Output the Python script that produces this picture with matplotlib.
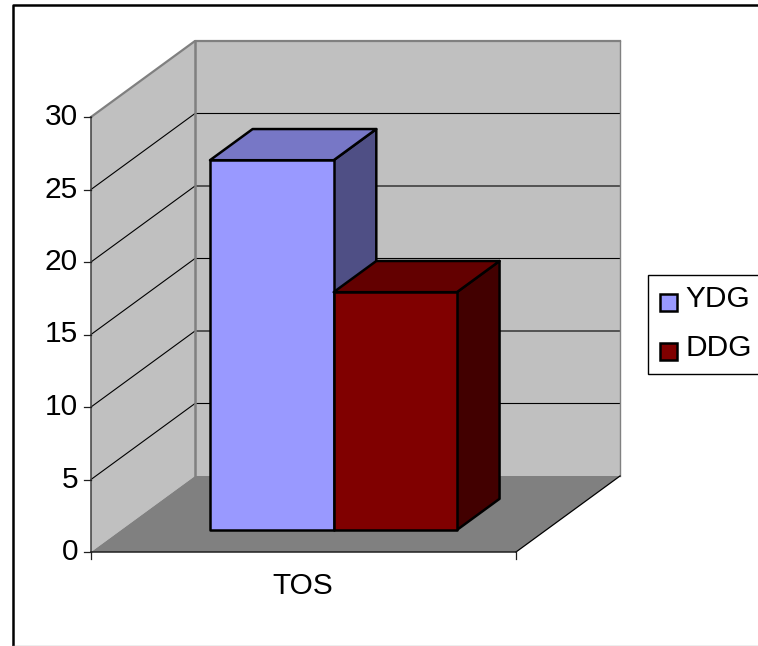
import matplotlib
matplotlib.use("Agg")
import matplotlib.pyplot as plt
from matplotlib.patches import Polygon, Rectangle

plt.rcParams['font.family'] = ['Liberation Sans', 'DejaVu Sans']

# data
categories = ["TOS"]
series_names = ["YDG", "DDG"]
series_values = [25.5, 16.4]
series_colors = ["#9999ff", "#800000"]
top_colors = ["#7777c6", "#630000"]
side_colors = ["#4f4f85", "#420000"]
y_ticks = [0, 5, 10, 15, 20, 25, 30]

# oblique box, in pixels
x0 = 91.0
y0 = 552.0
box_w = 425.0
dx = 104.0
dy = -76.0
px_per_unit = 14.5
ymax = 30
label_size = 21.5


def proj(fx, v, d):
    # fx: 0-1 along the category axis, v: value, d: 0-1 depth
    return (x0 + fx * box_w + d * dx, y0 - v * px_per_unit + d * dy)


fig = plt.figure(figsize=(7.58, 6.46), dpi=100)
ax = fig.add_axes([0, 0, 1, 1])
ax.set_xlim(0, 758)
ax.set_ylim(646, 0)
ax.axis("off")

# walls and floor
wall = "#c0c0c0"
edge = "#808080"
ax.add_patch(Polygon([proj(0, 0, 0), proj(0, ymax, 0), proj(0, ymax, 1), proj(0, 0, 1)],
                     fc=wall, ec="none", zorder=1))
ax.add_patch(Polygon([proj(0, 0, 1), proj(0, ymax, 1), proj(1, ymax, 1), proj(1, 0, 1)],
                     fc=wall, ec="none", zorder=1))
ax.add_patch(Polygon([proj(0, 0, 0), proj(1, 0, 0), proj(1, 0, 1), proj(0, 0, 1)],
                     fc="#808080", ec="none", zorder=1))

# grid
for v in y_ticks[1:-1]:
    xs, ys = zip(proj(0, v, 0), proj(0, v, 1), proj(1, v, 1))
    ax.plot(xs, ys, color="black", lw=0.8, zorder=2)
xs, ys = zip(proj(0, ymax, 0), proj(0, ymax, 1), proj(1, ymax, 1))
ax.plot(xs, ys, color=edge, lw=1.6, zorder=2)
xs, ys = zip(proj(0, 0, 1), proj(0, ymax, 1))
ax.plot(xs, ys, color=edge, lw=1.8, zorder=2)
xs, ys = zip(proj(1, 0, 1), proj(1, ymax, 1))
ax.plot(xs, ys, color=edge, lw=1.0, zorder=2)
xs, ys = zip(proj(1, 0, 0), proj(1, 0, 1))
ax.plot(xs, ys, color="black", lw=0.9, zorder=2)

# axis lines and ticks
xs, ys = zip(proj(0, 0, 0), proj(0, ymax, 0))
ax.plot(xs, ys, color="#404040", lw=1.1, zorder=3)
xs, ys = zip(proj(0, 0, 0), proj(1, 0, 0))
ax.plot(xs, ys, color="#202020", lw=1.1, zorder=3)
for v in y_ticks:
    px, py = proj(0, v, 0)
    ax.plot([px - 7, px], [py, py], color="#202020", lw=0.9, zorder=3)
    ax.text(px - 13, py, str(v), ha="right", va="center", fontsize=label_size, color="black")
for fx in [0, 1]:
    px, py = proj(fx, 0, 0)
    ax.plot([px, px], [py, py + 7], color="#202020", lw=0.9, zorder=3)

# bars
bar_edges = [0.209, 0.50, 0.79]
d_front = 0.29
d_back = 0.70
for i in range(len(series_values)):
    a, b = bar_edges[i], bar_edges[i + 1]
    v = series_values[i]
    top = [proj(a, v, d_front), proj(b, v, d_front), proj(b, v, d_back), proj(a, v, d_back)]
    side = [proj(b, 0, d_front), proj(b, v, d_front), proj(b, v, d_back), proj(b, 0, d_back)]
    front = [proj(a, 0, d_front), proj(b, 0, d_front), proj(b, v, d_front), proj(a, v, d_front)]
    z = 5 + i
    ax.add_patch(Polygon(side, fc=side_colors[i], ec="black", lw=1.8, joinstyle="round", zorder=z))
    ax.add_patch(Polygon(top, fc=top_colors[i], ec="black", lw=1.8, joinstyle="round", zorder=z))
    ax.add_patch(Polygon(front, fc=series_colors[i], ec="black", lw=1.8, joinstyle="round", zorder=z))

# category label
px, py = proj(0.5, 0, 0)
ax.text(px - 1, py + 34, categories[0], ha="center", va="center", fontsize=label_size, color="black")

# legend
ax.add_patch(Rectangle((648, 275), 120, 99, fc="white", ec="black", lw=1.0, zorder=4))
for i, name in enumerate(series_names):
    ly = 302 + i * 49
    ax.add_patch(Rectangle((660, ly - 8), 17, 17, fc=series_colors[i], ec="black", lw=1.8, zorder=5))
    ax.text(685, ly - 3, name, ha="left", va="center", fontsize=label_size, color="black", zorder=5)

# outer frame
ax.plot([12.5, 12.5, 758], [646, 4.5, 4.5], color="black", lw=1.8, zorder=8)
ax.plot([12.5, 758], [645.5, 645.5], color="#aaaaaa", lw=1.0, zorder=8)

fig.savefig("out.png", dpi=100)
